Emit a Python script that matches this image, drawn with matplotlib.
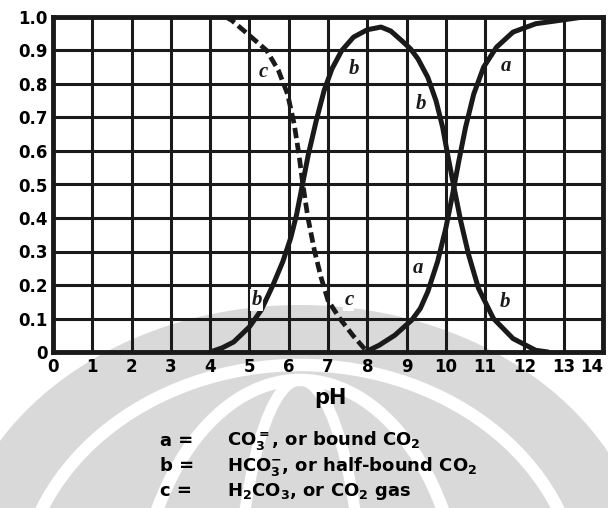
import matplotlib.pyplot as plt
from matplotlib.patches import Ellipse, Arc

plt.rcParams['mathtext.default'] = 'bf'

# Curva a: CO3= (fracción vs pH)
ph_a = [7.95, 8.3, 8.7, 9.13, 9.35, 9.54, 9.79, 10.0, 10.17, 10.33, 10.5, 10.71, 10.96,
        11.29, 11.71, 12.29, 12.9, 13.5, 14.0]
val_a = [0.0, 0.02, 0.05, 0.095, 0.13, 0.18, 0.27, 0.37, 0.47, 0.57, 0.67, 0.77, 0.85,
         0.91, 0.955, 0.98, 0.99, 1.0, 1.0]

# Curva b: HCO3-
ph_b = [4.0, 4.3, 4.6, 5.0, 5.3, 5.6, 5.85, 6.05, 6.2, 6.35, 6.5, 6.7, 6.9, 7.1, 7.35,
        7.65, 8.0, 8.35, 8.6, 8.87, 9.1, 9.29, 9.54, 9.75, 9.92, 10.06, 10.21, 10.38,
        10.58, 10.83, 11.21, 11.71, 12.29, 12.6]
val_b = [0.0, 0.012, 0.03, 0.075, 0.125, 0.20, 0.27, 0.34, 0.41, 0.50, 0.59, 0.69, 0.78,
         0.845, 0.90, 0.94, 0.962, 0.97, 0.958, 0.93, 0.905, 0.875, 0.82, 0.75, 0.67,
         0.58, 0.49, 0.39, 0.29, 0.19, 0.10, 0.04, 0.005, 0.0]

# Curva c: H2CO3 (discontinua)
ph_c = [4.4, 4.55, 5.0, 5.44, 5.74, 5.97, 6.14, 6.26, 6.36, 6.49, 6.66, 6.82, 7.0,
        7.3, 7.63, 8.0]
val_c = [1.0, 0.99, 0.945, 0.9, 0.84, 0.77, 0.68, 0.59, 0.5, 0.4, 0.3, 0.224, 0.154,
         0.10, 0.05, 0.0]

x_ticks = list(range(0, 15))
y_ticks = [0, 0.1, 0.2, 0.3, 0.4, 0.5, 0.6, 0.7, 0.8, 0.9, 1.0]
y_labels = ['0', '0.1', '0.2', '0.3', '0.4', '0.5', '0.6', '0.7', '0.8', '0.9', '1.0']

# Etiquetas de las curvas (texto, pH, fracción)
etiquetas = [('c', 5.35, 0.835), ('b', 7.66, 0.846), ('b', 9.37, 0.74), ('a', 11.54, 0.855),
             ('b', 5.18, 0.154), ('c', 7.53, 0.154), ('a', 9.29, 0.25), ('b', 11.5, 0.15)]

leyenda = [('a =', r'CO$_3^{=}$, or bound CO$_2$'),
           ('b =', r'HCO$_3^{-}$, or half-bound CO$_2$'),
           ('c =', r'H$_2$CO$_3$, or CO$_2$ gas')]

fig = plt.figure(figsize=(6.08, 5.08), dpi=100)


def fx(px):
    return px / 608


def fy(py):
    return 1 - py / 508


# Marca de agua gris de fondo (aproximada)
gris = '#d9d9d9'
fig.patches.append(Ellipse((fx(300), fy(585)), 700 / 608, 560 / 508, fc=gris, ec='none',
                           transform=fig.transFigure, zorder=-2))
fig.patches.append(Arc((fx(300), fy(600)), 560 / 608, 470 / 508, theta1=0, theta2=180,
                       ec='white', lw=9, transform=fig.transFigure, zorder=-1))
fig.patches.append(Arc((fx(300), fy(640)), 330 / 608, 520 / 508, theta1=0, theta2=180,
                       ec='white', lw=9, transform=fig.transFigure, zorder=-1))
fig.patches.append(Arc((fx(300), fy(660)), 130 / 608, 560 / 508, theta1=0, theta2=180,
                       ec='white', lw=8, transform=fig.transFigure, zorder=-1))

ax = fig.add_axes([53 / 608, 1 - 352 / 508, 550 / 608, 335 / 508])
ax.patch.set_alpha(0)

ax.plot(ph_a, val_a, color='#1a1a1a', lw=3.6, solid_capstyle='round',
        solid_joinstyle='round', zorder=3)
ax.plot(ph_b, val_b, color='#1a1a1a', lw=3.6, solid_capstyle='round',
        solid_joinstyle='round', zorder=3)
ax.plot(ph_c, val_c, color='#1a1a1a', lw=3.4, linestyle=(0, (2.2, 1.0)), zorder=3)

ax.set_xlim(0, 14)
ax.set_ylim(0, 1)
ax.set_xticks(x_ticks)
ax.set_yticks(y_ticks)
ax.set_yticklabels(y_labels)
ax.tick_params(length=0, pad=4, labelsize=12)
for lab in ax.get_xticklabels() + ax.get_yticklabels():
    lab.set_fontweight('bold')
# el "14" queda pegado al borde derecho, se alinea a la derecha para no cortarlo
ax.get_xticklabels()[-1].set_horizontalalignment('right')
ax.grid(True, color='#1a1a1a', lw=2.2)
ax.set_axisbelow(True)
for s in ax.spines.values():
    s.set_linewidth(3.5)
    s.set_color('#1a1a1a')

for t, x, y in etiquetas:
    ax.text(x, y, t, fontsize=15, fontstyle='italic', fontweight='bold',
            family='Liberation Serif', ha='center', va='center', color='#1a1a1a',
            zorder=4, bbox=dict(boxstyle='square,pad=0.05', fc='white', ec='none'))

fig.text(330 / 608, 1 - 398 / 508, 'pH', fontsize=15, fontweight='bold',
         ha='center', va='center')

for i, (k, desc) in enumerate(leyenda):
    yy = 1 - (441 + 25 * i) / 508
    fig.text(160 / 608, yy, k, fontsize=13, fontweight='bold', ha='left', va='center')
    fig.text(227 / 608, yy, desc, fontsize=13, fontweight='bold', ha='left', va='center')

plt.savefig('out.png', dpi=100)
